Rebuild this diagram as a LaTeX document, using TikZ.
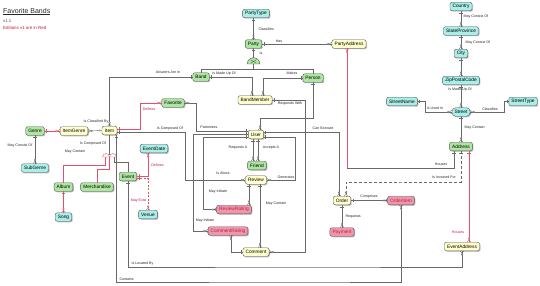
\documentclass[tikz,border=0pt]{standalone}
\usepackage{fontspec}
\setmainfont{Liberation Sans}
\usetikzlibrary{shadows,decorations.markings}
\definecolor{cyanF}{RGB}{170,238,232}
\definecolor{greenF}{RGB}{172,230,160}
\definecolor{yellowF}{RGB}{255,255,205}
\definecolor{pinkF}{RGB}{240,150,172}
\definecolor{bord}{RGB}{85,85,85}
\definecolor{lineG}{RGB}{105,105,105}
\definecolor{lineR}{RGB}{225,80,110}
\definecolor{redT}{RGB}{190,30,60}
\tikzset{
 markone/.style={postaction={decorate,decoration={markings,mark=at position 1.8pt with {\draw[solid,line width=0.4pt,#1] (0pt,-1.7pt) -- (0pt,1.7pt);}}}},
 markmany/.style={postaction={decorate,decoration={markings,mark=at position -2.4pt with {\draw[solid,line width=0.35pt,#1] (2.4pt,1.8pt) -- (0pt,0pt) -- (2.4pt,-1.8pt); \draw[solid,line width=0.35pt,#1,fill=white] (-1.1pt,0pt) circle[radius=0.9pt];}}}},
 ent/.style={draw=bord,line width=0.4pt,rounded corners=2pt,font=\fontsize{4.8}{5}\selectfont,inner xsep=2.6pt,inner ysep=0pt,minimum height=8.5pt,drop shadow={shadow xshift=1pt,shadow yshift=-1pt,fill=black!50}},
 cy/.style={ent,fill=cyanF},
 gr/.style={ent,fill=greenF},
 ye/.style={ent,fill=yellowF},
 pk/.style={ent,fill=pinkF,text=redT},
 plain/.style={draw=lineG,line width=0.4pt},
 rplain/.style={draw=lineR,line width=0.4pt},
 rel/.style={plain,markone=lineG,markmany=lineG},
 rel1/.style={plain,markone=lineG},
 rrel/.style={rplain,markone=lineR,markmany=lineR},
 rrelm/.style={rplain,markmany=lineR},
 lab/.style={font=\fontsize{3.6}{4}\selectfont,inner sep=0.3pt,text=black!85},
 rlab/.style={lab,text=redT},
}
\begin{document}
\begin{tikzpicture}[x=1pt,y=-1pt]
\fill[white] (0,0) rectangle (540,286);
\useasboundingbox (0,0) rectangle (540,286);
% titles
\node[anchor=west,inner sep=0pt,font=\fontsize{7}{8}\selectfont,text=black!85] (title) at (3,11.5) {\underline{Favorite Bands}};
\node[anchor=west,inner sep=0pt,font=\fontsize{4.3}{5}\selectfont,text=black!70] (ver) at (3,21.5) {v1.1};
\node[anchor=west,inner sep=0pt,font=\fontsize{4.4}{5}\selectfont,text=redT] (edit) at (3,27.5) {Editions v1 are in Red};
% entities
\node[cy] (pt) at (256,13.5) {PartyType};
\node[gr] (party) at (253.5,44) {Party};
\node[ye] (paddr) at (349,44) {PartyAddress};
\node[gr] (band) at (201,77) {Band};
\node[gr] (person) at (313,78) {Person};
\node[ye] (bm) at (255,100) {BandMember};
\node[gr] (fav) at (173,103) {Favorite};
\node[ye,minimum width=15pt] (item) at (109.5,130.5) {Item};
\node[ye] (ig) at (74,131) {ItemGenre};
\node[gr] (genre) at (35,131) {Genre};
\node[cy] (sub) at (35,168) {SubGenre};
\node[gr] (album) at (63.5,187) {Album};
\node[gr] (merch) at (97,187) {Merchandise};
\node[cy] (song) at (63.5,217) {Song};
\node[gr] (event) at (128,176.5) {Event};
\node[cy] (edate) at (154,148.5) {EventDate};
\node[cy] (venue) at (148,214.5) {Venue};
\node[ye] (user) at (256,134.5) {User};
\node[gr] (friend) at (257,165.5) {Friend};
\node[ye] (review) at (256,180) {Review};
\node[pk] (rr) at (234,209.5) {ReviewRating};
\node[pk] (cr) at (228,231) {CommentRating};
\node[ye] (comment) at (256,252) {Comment};
\node[ye] (order) at (342,200.5) {Order};
\node[pk] (pay) at (342,232) {Payment};
\node[pk] (oi) at (401,200.5) {OrderItem};
\node[ye] (eaddr) at (462,246.5) {EventAddress};
\node[cy] (country) at (461,6.5) {Country};
\node[cy] (state) at (461,31) {StateProvince};
\node[cy] (city) at (461,53.5) {City};
\node[cy] (zip) at (461,80.5) {ZipPostalCode};
\node[cy] (sname) at (402,101.5) {StreetName};
\node[cy,rounded corners=3.5pt] (street) at (461,112) {Street};
\node[cy] (stype) at (523,101.5) {StreetType};
\node[gr] (addr) at (461,146.5) {Address};
% subtype gate under Party
\coordinate (gT) at (253.5,57.7);
\coordinate (gC) at (253.5,64);
\coordinate (gJ) at (253.5,69);
\filldraw[draw=bord,fill=greenF,line width=0.4pt] (247.2,64) arc[start angle=180,end angle=360,radius=6.3] -- cycle;
\draw[bord,line width=0.35pt] (250.8,59.8) -- (256.2,63.2) (256.2,59.8) -- (250.8,63.2);
\draw[rel1] (party.south) -- (gT);
\draw[plain] (gC) -- (gJ) -| (band.north);
\draw[plain] (gJ) -| (person.north);
% subtype gate under Item
\coordinate (gT2) at (109.5,154.5);
\coordinate (gA) at (105,157);
\coordinate (gM) at (109.5,157);
\coordinate (gE) at (114,157);
\filldraw[draw=lineR,fill=white,line width=0.4pt] (102.5,157) arc[start angle=180,end angle=360,radius=3.5] -- cycle;
\filldraw[draw=lineR,fill=white,line width=0.4pt] (109.5,157) arc[start angle=180,end angle=360,radius=3.5] -- cycle;
\draw[plain] (item.south) -- (gT2);
\draw[rplain] (gA) -- (105,165) -| (album.north);
\draw[rplain] (gM) -- (109.5,169) -| (merch.north);
\draw[plain] (gE) -- (114,162) -| (event.north);
% connectors
\draw[rel] (pt.south -| party.north) -- (party.north);
\draw[rel] (party.east) -- (paddr.west);
\draw[rel] (band.east) -| ([xshift=-3pt]bm.north);
\draw[rel] (person.west) -| ([xshift=8pt]bm.north);
\draw[rel] (bm.east) -| (305,252) -- (comment.east);
\draw[rel] (person.south) -- (313,118) -| ([xshift=4pt]user.north);
\draw[rel] (band.west) -| (item.north);
\draw[rel] (item.west) -- (ig.east);
\draw[rrel] (genre.east) -- (ig.west);
\draw[rel] (genre.south) -- (sub.north);
\draw[rrel] ([yshift=1.5pt]item.east) -| (140,103) -- (fav.west);
\draw[rel] ([yshift=-2pt]item.east) -| (185,180) -- (review.west);
\draw[rel] ([yshift=3.5pt]user.west) -| (196,103) -- (fav.east);
\draw[rel] (user.west) -| (193,231) -- (cr.west);
\draw[rel] ([yshift=-3pt]user.west) -| (203,209.5) -- (rr.west);
\coordinate (u1) at ([xshift=-3pt]user.south);
\coordinate (u2) at ([xshift=2pt]user.south);
\draw[rel] (u1) -- (u1 |- friend.north);
\draw[rel] (u2) -- (u2 |- friend.north);
\draw[rel] ([yshift=-2.5pt]user.east) -| (295,180) -- (review.east);
\draw[rel] ([yshift=2pt]user.east) -| ([xshift=-3pt]order.north);
\coordinate (r1) at ([xshift=-7pt]review.south);
\draw[rel] (r1) -- (r1 |- rr.north);
\coordinate (r2) at ([xshift=4pt]review.south);
\draw[rel] (r2) -- (r2 |- comment.north);
\coordinate (c1) at ([xshift=3pt]cr.south);
\draw[rel] (comment.west) -| (c1);
\draw[rel] (order.east) -- (oi.west);
\draw[rel] (order.south) -- (pay.north);
\coordinate (i1) at ([xshift=7pt]item.south);
\draw[rel] (i1) |- (300,282) -| (oi.south);
\draw[rel] (event.south) |- (300,267) -| (eaddr.south);
\coordinate (e1) at ([xshift=-6pt]edate.south);
\draw[rrel] ([yshift=0.8pt]event.east) -| (e1);
\draw[rrel,dash pattern=on 2pt off 1.5pt] ([yshift=-1.8pt]event.east) -| (venue.north);
\draw[rrel] (album.south) -- (song.north);
\draw[rel] (country.south) -- (state.north);
\draw[rel] (state.south) -- (city.north);
\draw[rel] (city.south) -- (zip.north);
\draw[rel] (zip.south) -- (street.north);
\draw[rel] (sname.east) -| (425,112) -- (street.west);
\draw[rel] (stype.west) -| (504,112) -- (street.east);
\draw[rel] (street.south) -- (addr.north);
\draw[rel,dash pattern=on 3pt off 2pt] (addr.south) |- (400,182) -| ([xshift=4pt]order.north);
\coordinate (a2) at ([xshift=-7pt]addr.south);
\coordinate (hc) at (347,168);
\coordinate (p1) at ([xshift=-2pt]paddr.south);
\draw[rel1] (a2) |- (hc);
\draw[rrelm] (hc) -- (p1);
\coordinate (a3) at ([xshift=8pt]addr.south);
\draw[rrel] (a3) -- (a3 |- eaddr.north);
% labels
\node[lab,anchor=west] (l1) at (258,29) {Classifies};
\node[lab] (l2) at (279,41) {Has};
\node[lab] (l3) at (261,53) {Is};
\node[lab] (l4) at (224,73.5) {Is Made Up Of};
\node[lab] (l5) at (292,73.5) {Makes};
\node[lab] (l6) at (290,104) {Responds With};
\node[lab] (l7) at (168,72.5) {Answers Are In};
\node[lab] (l8) at (96,121.5) {Is Classified By};
\node[lab] (l9) at (20,146) {May Consist Of};
\node[rlab] (l10) at (149,109) {Defines};
\node[lab] (l11) at (170,128.5) {Is Composed Of};
\node[lab] (l12) at (209,127.5) {Patronizes};
\node[lab] (l13) at (93,144) {Is Composed Of};
\node[lab] (l14) at (75,152) {May Contain};
\node[lab] (l15) at (323,128.5) {Can Execute};
\node[lab] (l16) at (238,147.5) {Requests A};
\node[lab] (l17) at (271,147.5) {Accepts A};
\node[lab] (l18) at (223,173.5) {Is About};
\node[lab] (l19) at (286,177) {Generates};
\node[lab] (l20) at (218,192) {May Initiate};
\node[lab] (l21) at (205,221) {May Initiate};
\node[lab] (l22) at (276,204) {May Contain};
\node[lab] (l23) at (369,197) {Comprises};
\node[lab,anchor=west] (l24) at (345,216.5) {Requests};
\node[rlab] (l25) at (157.5,165) {Defines};
\node[rlab,anchor=east] (l26) at (147,201) {May Exist};
\node[lab,anchor=west] (l27) at (131,264) {Is Located By};
\node[lab,anchor=west] (l28) at (119,279) {Contains};
\node[lab,anchor=west] (l29) at (463,17) {May Consist Of};
\node[lab,anchor=west] (l30) at (465,43) {May Consist Of};
\node[lab] (l31) at (460,90) {Is Made Up Of};
\node[lab] (l32) at (435,108) {Is Used In};
\node[lab] (l33) at (490,109) {Classifies};
\node[lab,anchor=west] (l34) at (464,128) {May Contain};
\node[lab] (l35) at (441,164) {Houses};
\node[lab] (l36) at (444,177) {Is Invoiced For};
\node[rlab] (l37) at (458,232) {Houses};
\end{tikzpicture}
\end{document}
